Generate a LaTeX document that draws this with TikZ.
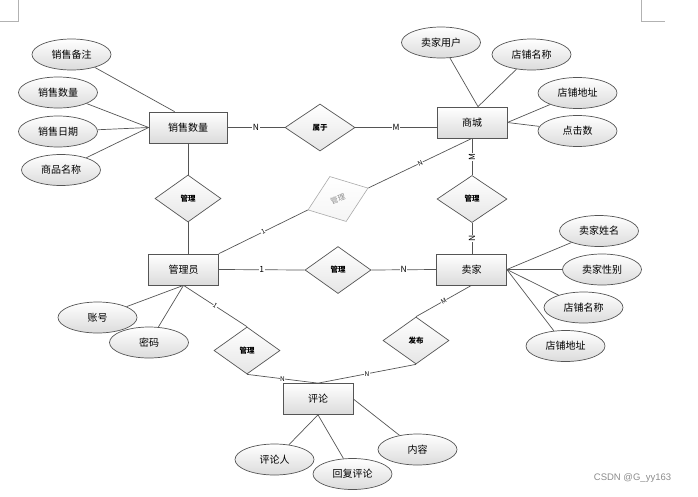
\documentclass[tikz,border=0pt]{standalone}
\usepackage{fontspec}
\usetikzlibrary{shapes.geometric,calc}
\newfontfamily\cjk{Noto Sans CJK SC}
\newfontfamily\wmfont{Liberation Sans}
\definecolor{erline}{HTML}{555555}
\definecolor{erfade}{HTML}{AAAAAA}
\tikzset{
  entity/.style={draw=erline, line width=0.7pt, top color=white, bottom color=black!14,
    minimum width=70, minimum height=31, inner sep=0pt, font=\cjk\fontsize{10}{12}\selectfont},
  attr/.style={ellipse, draw=erline, line width=0.7pt, top color=white, bottom color=black!14,
    minimum width=79, minimum height=31, inner sep=0pt, font=\cjk\fontsize{10}{12}\selectfont},
  rel/.style={diamond, draw=erline, line width=0.7pt, top color=white, bottom color=black!10,
    minimum width=66, minimum height=47, inner sep=0pt, font=\cjk\bfseries\fontsize{7.5}{8}\selectfont},
  faded/.style={draw=erfade, text=black!45, top color=white, bottom color=black!4, line width=0.6pt,
    font=\cjk\fontsize{7.5}{8}\selectfont},
  link/.style={draw=erline, line width=0.7pt},
  card/.style={fill=white, inner sep=0.6pt, font=\cjk\fontsize{8.5}{9}\selectfont},
  cardsm/.style={fill=white, inner sep=0.4pt, font=\cjk\fontsize{6.5}{7}\selectfont},
}

\begin{document}
\begin{tikzpicture}[x=1pt, y=-1pt]
  \useasboundingbox (0,0) rectangle (698,496);
  % page corner marks
  \draw[black!30, line width=0.7pt] (18,0) -- (18,21) -- (0,21);
  \draw[black!30, line width=0.7pt] (641,0) -- (641,21) -- (665,21);
  % entities
  \node[entity, minimum width=78] (sale) at (188,127.5) {销售数量};
  \node[entity] (mall) at (472,122.5) {商城};
  \node[entity] (admin) at (183.5,269.5) {管理员};
  \node[entity] (seller) at (471.5,269.5) {卖家};
  \node[entity] (comment) at (318,399) {评论};
  % relationships
  \node[rel, minimum width=70] (belong) at (320,127.5) {属于};
  \node[rel] (mgrsale) at (188,198.5) {管理};
  \node[rel, faded, rotate=20, minimum width=64, minimum height=48] (mgrmall) at (338,199) {管理};
  \node[rel, minimum width=70] (mgrshop) at (472,199) {管理};
  \node[rel] (mgrseller) at (338,270) {管理};
  \node[rel] (mgrcomment) at (247,350.5) {管理};
  \node[rel] (publish) at (416,340.5) {发布};
  % attributes
  \foreach \n/\x/\y/\t in {sa1/71.5/54.5/销售备注, sa2/58/92.5/销售数量, sa3/58/131.5/销售日期,
      sa4/61/170/商品名称, ma1/441/42.5/卖家用户, ma2/531.5/54.5/店铺名称,
      ma3/577.5/93/店铺地址, ma4/577.5/131/点击数, se1/599/231/卖家姓名,
      se2/602/269.5/卖家性别, se3/583.5/307.5/店铺名称, se4/565.5/346/店铺地址,
      ad1/97.5/317.5/账号, ad2/149/342.5/密码, co1/274.5/459.5/评论人,
      co2/352.5/474/回复评论, co3/417.5/449.5/内容}{
    \node[attr] (\n) at (\x,\y) {\t};
  }
  \coordinate (saletop) at ($(sale.north west)!.33!(sale.north east)$);
  \coordinate (malltop) at ($(mall.north)+(6,0)$);
  \foreach \a/\b in {sa1/saletop, sa2/sale.west, sa3/sale.west, sa4/sale.west,
      ma1/malltop, ma2/malltop, ma3/mall.east, ma4/mall.east,
      se1/seller.east, se2/seller.east, se3/seller.east, se4/seller.east,
      ad1/admin.south, ad2/admin.south, co1/comment.south, co2/comment.south,
      co3/comment.east}{
    \draw[link] (\a) -- (\b);
  }
  % relationship lines
  \draw[link] (sale.east) -- node[card]{N} (belong.west);
  \draw[link] (belong.east) -- node[card]{M} (belong.east -| mall.west);
  \draw[link] (sale.south) -- (mgrsale.north);
  \draw[link] (mgrsale.south) -- (mgrsale.south |- admin.north);
  \draw[link] (admin.north east) -- node[cardsm, sloped]{1} (mgrmall.west);
  \draw[link] (mgrmall.east) -- node[cardsm, sloped]{N} (mall.south);
  \draw[link] (mall.south) -- node[card, rotate=90]{M} (mgrshop.north);
  \draw[link] (mgrshop.south) -- node[card, rotate=90]{N} (mgrshop.south |- seller.north);
  \draw[link] (admin.east) -- node[card]{1} (mgrseller.west);
  \draw[link] (mgrseller.east) -- node[card]{N} (seller.west);
  \draw[link] (admin.south) -- node[cardsm, sloped]{1} (mgrcomment.north);
  \draw[link] (mgrcomment.south) -- node[cardsm]{N} (comment.north);
  \draw[link] (publish.south) -- node[cardsm]{N} (comment.north);
  \draw[link] (publish.north) -- node[cardsm, sloped]{M} (seller.south);
  % watermark
  \node[font=\wmfont\fontsize{9.5}{11}\selectfont, text=black!45] (mark) at (632.5,478) {CSDN @G\_yy163};
\end{tikzpicture}
\end{document}
